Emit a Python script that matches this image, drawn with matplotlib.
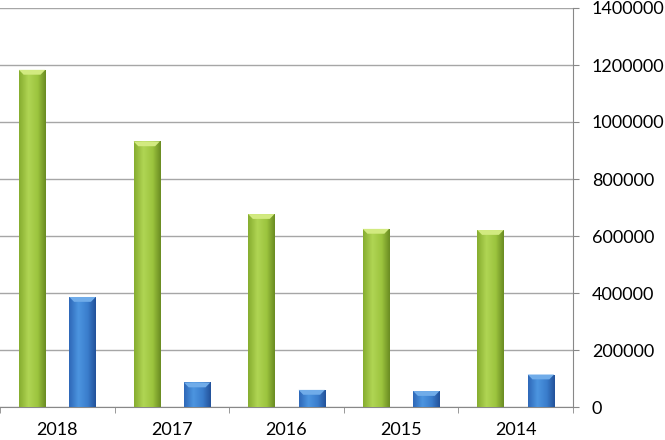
import numpy as np
import matplotlib.pyplot as plt
from matplotlib.colors import LinearSegmentedColormap
from matplotlib.patches import Polygon

years = ["2018", "2017", "2016", "2015", "2014"]
green_vals = [1183000, 932000, 677000, 625000, 621000]
blue_vals = [386000, 86000, 60000, 56000, 114000]
y_ticks = [0, 200000, 400000, 600000, 800000, 1000000, 1200000, 1400000]

plt.rcParams['font.family'] = ['Lato', 'DejaVu Sans']

fig = plt.figure(figsize=(6.65, 4.4), dpi=100)
ax = fig.add_axes([0, 33 / 440, 573 / 665, 399 / 440])

x = np.arange(len(years))
w = 0.23
green_bars = ax.bar(x - 0.22, green_vals, w, color='#9cc43e', zorder=2)
blue_bars = ax.bar(x + 0.22, blue_vals, w, color='#3a7dcc', zorder=2)

green_cmap = LinearSegmentedColormap.from_list(
    'g', [(0, '#86ad2f'), (0.35, '#b0d554'), (0.7, '#9cc43e'), (1, '#6a8c22')])
blue_cmap = LinearSegmentedColormap.from_list(
    'b', [(0, '#2e68b8'), (0.35, '#4c95e0'), (0.7, '#3a7dcc'), (1, '#23529a')])


def shade(bars, cmap, top_col):
    grad = np.linspace(0, 1, 64).reshape(1, -1)
    for p in bars:
        x0, y0 = p.get_x(), p.get_y()
        bw, bh = p.get_width(), p.get_height()
        im = ax.imshow(grad, cmap=cmap, extent=(x0, x0 + bw, y0, y0 + bh),
                       aspect='auto', zorder=3, interpolation='bilinear')
        im.set_clip_path(p)
        # little bevel on top of each bar
        d = min(bh * 0.5, 17000)
        inset = bw * 0.18
        top = y0 + bh
        ax.add_patch(Polygon([(x0, top), (x0 + bw, top), (x0 + bw - inset, top - d),
                              (x0 + inset, top - d)], closed=True,
                             facecolor=top_col, edgecolor='none', zorder=4))


shade(green_bars, green_cmap, '#d2ea80')
shade(blue_bars, blue_cmap, '#70ace9')

ax.set_xlim(-0.5, len(years) - 0.5)
ax.set_ylim(0, 1400000)
ax.set_yticks(y_ticks)
ax.set_yticklabels([str(v) for v in y_ticks])
ax.yaxis.tick_right()
ax.set_xticks(x)
ax.set_xticklabels(years)
ax.set_xticks(np.arange(len(years) + 1) - 0.5, minor=True)

ax.tick_params(axis='x', which='major', length=0, pad=11, labelsize=13)
ax.tick_params(axis='x', which='minor', length=4, color='#888888')
ax.tick_params(axis='y', length=4.5, color='#888888', pad=9, labelsize=13)

for s in ['left', 'top']:
    ax.spines[s].set_visible(False)
for s in ['right', 'bottom']:
    ax.spines[s].set_color('#888888')

ax.set_axisbelow(True)
ax.yaxis.grid(True, color='#a6a6a6', linewidth=1)

fig.savefig('out.png', dpi=100)
